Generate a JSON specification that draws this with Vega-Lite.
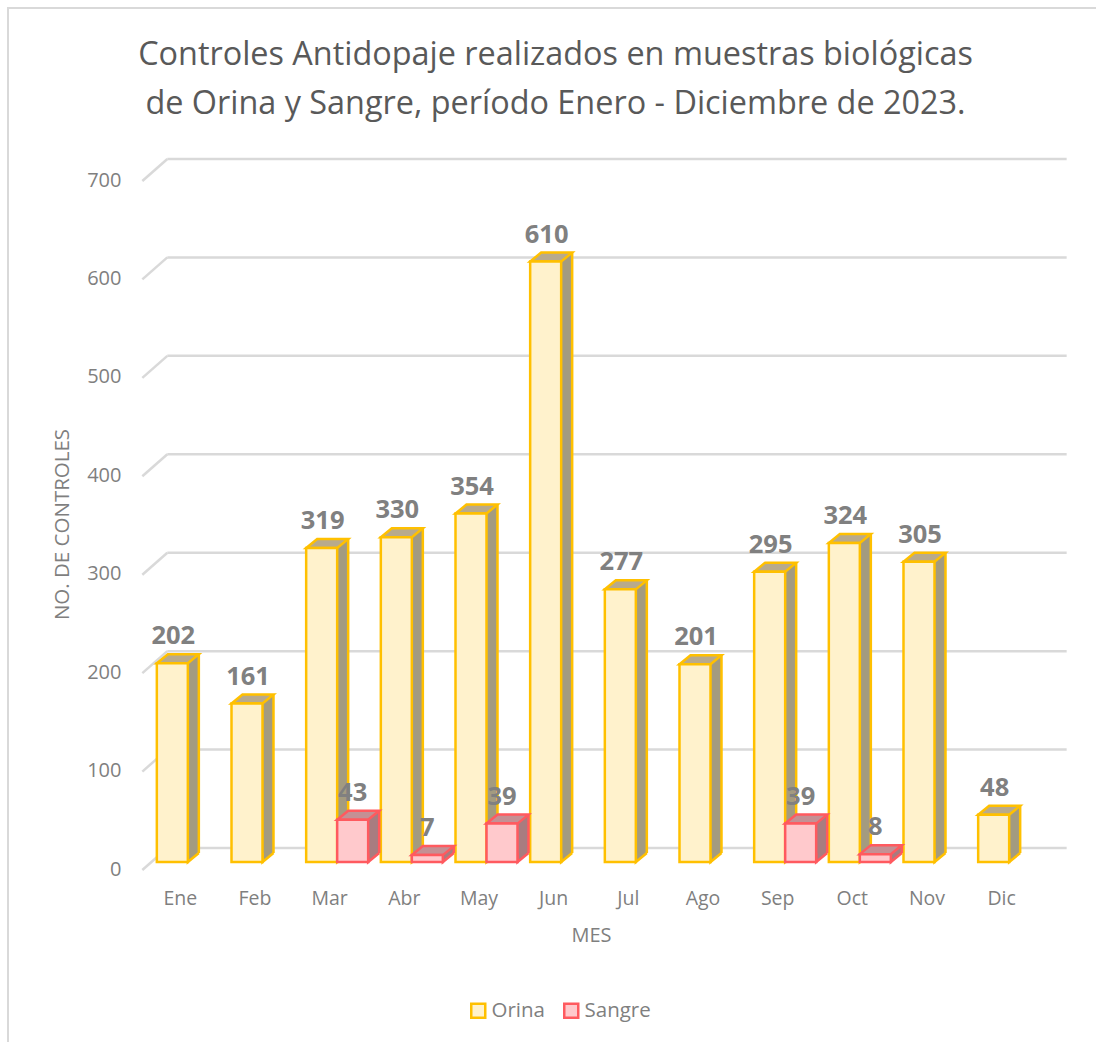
{
"$schema":"https://vega.github.io/schema/vega-lite/v6.json",
"width":1095,"height":1042,
"autosize":{"type":"none"},
"padding":{"left":8,"top":8,"right":0,"bottom":0},
"background":"white",
"title":{"text":["Controles Antidopaje realizados en muestras biológicas","de Orina y Sangre, período Enero - Diciembre de 2023."],"anchor":"middle","font":"Open Sans","fontSize":32.4,"fontWeight":"normal","color":"#595959","lineHeight":49,"dx":0,"dy":116},
"config":{"view":{"stroke":"#d9d9d9","strokeWidth":2},"font":"Open Sans"},
"datasets":{
"bars":[
{"mes":"Ene","serie":"Orina","valor":202},{"mes":"Feb","serie":"Orina","valor":161},{"mes":"Mar","serie":"Orina","valor":319},{"mes":"Abr","serie":"Orina","valor":330},{"mes":"May","serie":"Orina","valor":354},{"mes":"Jun","serie":"Orina","valor":610},{"mes":"Jul","serie":"Orina","valor":277},{"mes":"Ago","serie":"Orina","valor":201},{"mes":"Sep","serie":"Orina","valor":295},{"mes":"Oct","serie":"Orina","valor":324},{"mes":"Nov","serie":"Orina","valor":305},{"mes":"Dic","serie":"Orina","valor":48},
{"mes":"Mar","serie":"Sangre","valor":43},{"mes":"Abr","serie":"Sangre","valor":7},{"mes":"May","serie":"Sangre","valor":39},{"mes":"Sep","serie":"Sangre","valor":39},{"mes":"Oct","serie":"Sangre","valor":8}],
"grid":[{"g":0},{"g":100},{"g":200},{"g":300},{"g":400},{"g":500},{"g":600},{"g":700}]
},
"data":{"name":"bars"},
"layer":[
{"data":{"name":"grid"},"mark":{"type":"rule","color":"#d9d9d9","strokeWidth":2.5,"xOffset":-13,"x2Offset":65,"yOffset":-14},
 "encoding":{"x":{"datum":"Ene","type":"nominal","scale":{"domain":["Ene","Feb","Mar","Abr","May","Jun","Jul","Ago","Sep","Oct","Nov","Dic"],"range":[135,1031],"type":"band","padding":0},
   "sort":null,"axis":{"title":"MES","orient":"bottom","offset":-161,"ticks":false,"domain":false,"labelAngle":0,"labelPadding":0,"labelFont":"Open Sans","labelFontSize":19.5,"labelColor":"#7f7f7f","labelFontWeight":"normal","titleFont":"Open Sans","titleFontSize":20,"titleFontWeight":"normal","titleColor":"#7f7f7f","titleX":583,"titleY":36,"titleAlign":"center","grid":false}},
  "x2":{"datum":"Dic"},
  "y":{"field":"g","type":"quantitative","scale":{"domain":[0,700],"range":[854,165],"nice":false,"zero":true},"axis":{"title":"NO. DE CONTROLES","orient":"left","offset":-113,"values":[0,100,200,300,400,500,600,700],"ticks":false,"domain":false,"grid":false,"labelPadding":0,"labelOffset":7,"labelFont":"Open Sans","labelFontSize":20,"labelColor":"#7f7f7f","titleFont":"Open Sans","titleFontSize":20.5,"titleFontWeight":"normal","titleColor":"#7f7f7f","titleX":-49,"titleY":516,"titleAnchor":"middle"}}}},
{"data":{"name":"grid"},"mark":{"type":"rule","color":"#d9d9d9","strokeWidth":2.5,"xOffset":-38,"x2Offset":-13,"yOffset":8,"y2Offset":-14},
 "encoding":{"x":{"datum":"Ene","type":"nominal"},"x2":{"datum":"Ene"},"y":{"field":"g","type":"quantitative"},"y2":{"field":"g"}}},

{"transform":[{"filter":"datum.serie==='Orina'"}],"mark":{"type":"bar","width":11,"fill":"#a39b80","xOffset":13,"yOffset":-9,"y2Offset":-9},
 "encoding":{"x":{"field":"mes","type":"nominal"},"y":{"field":"valor","type":"quantitative"},"y2":{"datum":0}}},
{"transform":[{"filter":"datum.serie==='Orina'"}],"mark":{"type":"rule","color":"#FFC000","strokeWidth":2.5,"xOffset":18.5,"yOffset":-9,"y2Offset":-9},
 "encoding":{"x":{"field":"mes","type":"nominal"},"y":{"field":"valor","type":"quantitative"},"y2":{"datum":0}}},
{"transform":[{"filter":"datum.serie==='Orina'"}],"mark":{"type":"point","filled":true,"size":1600,"fill":"#a39b80","stroke":"#FFC000","strokeWidth":2.5,"opacity":1,"shape":"M0.775,-0.45L0.775,0L1.325,-0.45","xOffset":-8},
 "encoding":{"x":{"field":"mes","type":"nominal"},"y":{"datum":0,"type":"quantitative"}}},
{"transform":[{"filter":"datum.serie==='Orina'"}],"mark":{"type":"point","filled":true,"size":1600,"fill":"#b8aa8c","stroke":"#FFC000","strokeWidth":2.5,"opacity":1,"shape":"M-0.775,0L0.775,0L1.325,-0.45L-0.225,-0.45Z","xOffset":-8},
 "encoding":{"x":{"field":"mes","type":"nominal"},"y":{"field":"valor","type":"quantitative"}}},
{"transform":[{"filter":"datum.serie==='Orina'"}],"mark":{"type":"bar","width":31,"strokeWidth":2.5,"xOffset":-8},
 "encoding":{"x":{"field":"mes","type":"nominal"},"y":{"field":"valor","type":"quantitative"},"y2":{"datum":0},
  "fill":{"field":"serie","type":"nominal","scale":{"domain":["Orina","Sangre"],"range":["#FFF2CC","#FFC9CC"]},"legend":{"orient":"none","legendX":460,"legendY":992,"direction":"horizontal","columns":2,"title":null,"symbolType":"square","symbolSize":196,"symbolStrokeWidth":2.5,"labelFont":"Open Sans","labelFontSize":20.5,"labelColor":"#7f7f7f","columnPadding":14,"labelOffset":3}},
  "stroke":{"field":"serie","type":"nominal","scale":{"domain":["Orina","Sangre"],"range":["#FFC000","#FF5A5F"]},"legend":{"orient":"none","legendX":460,"legendY":992,"direction":"horizontal","columns":2,"title":null,"symbolType":"square","symbolSize":196,"symbolStrokeWidth":2.5,"labelFont":"Open Sans","labelFontSize":20.5,"labelColor":"#7f7f7f","columnPadding":14,"labelOffset":3}}}},

{"transform":[{"filter":"datum.serie==='Sangre'"}],"mark":{"type":"bar","width":11,"fill":"#a87c80","xOffset":44,"yOffset":-9,"y2Offset":-9},
 "encoding":{"x":{"field":"mes","type":"nominal"},"y":{"field":"valor","type":"quantitative"},"y2":{"datum":0}}},
{"transform":[{"filter":"datum.serie==='Sangre'"}],"mark":{"type":"rule","color":"#FF5A5F","strokeWidth":2.5,"xOffset":49.5,"yOffset":-9,"y2Offset":-9},
 "encoding":{"x":{"field":"mes","type":"nominal"},"y":{"field":"valor","type":"quantitative"},"y2":{"datum":0}}},
{"transform":[{"filter":"datum.serie==='Sangre'"}],"mark":{"type":"point","filled":true,"size":1600,"fill":"#a87c80","stroke":"#FF5A5F","strokeWidth":2.5,"opacity":1,"shape":"M0.775,-0.45L0.775,0L1.325,-0.45","xOffset":23},
 "encoding":{"x":{"field":"mes","type":"nominal"},"y":{"datum":0,"type":"quantitative"}}},
{"transform":[{"filter":"datum.serie==='Sangre'"}],"mark":{"type":"point","filled":true,"size":1600,"fill":"#c49094","stroke":"#FF5A5F","strokeWidth":2.5,"opacity":1,"shape":"M-0.775,0L0.775,0L1.325,-0.45L-0.225,-0.45Z","xOffset":23},
 "encoding":{"x":{"field":"mes","type":"nominal"},"y":{"field":"valor","type":"quantitative"}}},
{"transform":[{"filter":"datum.serie==='Sangre'"}],"mark":{"type":"bar","width":31,"strokeWidth":2.5,"xOffset":23},
 "encoding":{"x":{"field":"mes","type":"nominal"},"y":{"field":"valor","type":"quantitative"},"y2":{"datum":0},
  "fill":{"field":"serie","type":"nominal"},"stroke":{"field":"serie","type":"nominal"}}},

{"transform":[{"filter":"datum.serie==='Orina'"}],"mark":{"type":"text","font":"Open Sans","fontSize":25.5,"fontWeight":"bold","color":"#808080","dy":-19,"baseline":"alphabetic","xOffset":-7},
 "encoding":{"x":{"field":"mes","type":"nominal"},"y":{"field":"valor","type":"quantitative"},"text":{"field":"valor","type":"quantitative"}}},
{"transform":[{"filter":"datum.serie==='Sangre'"}],"mark":{"type":"text","font":"Open Sans","fontSize":25.5,"fontWeight":"bold","color":"#808080","dy":-19,"baseline":"alphabetic","xOffset":23},
 "encoding":{"x":{"field":"mes","type":"nominal"},"y":{"field":"valor","type":"quantitative"},"text":{"field":"valor","type":"quantitative"}}}
]
}
